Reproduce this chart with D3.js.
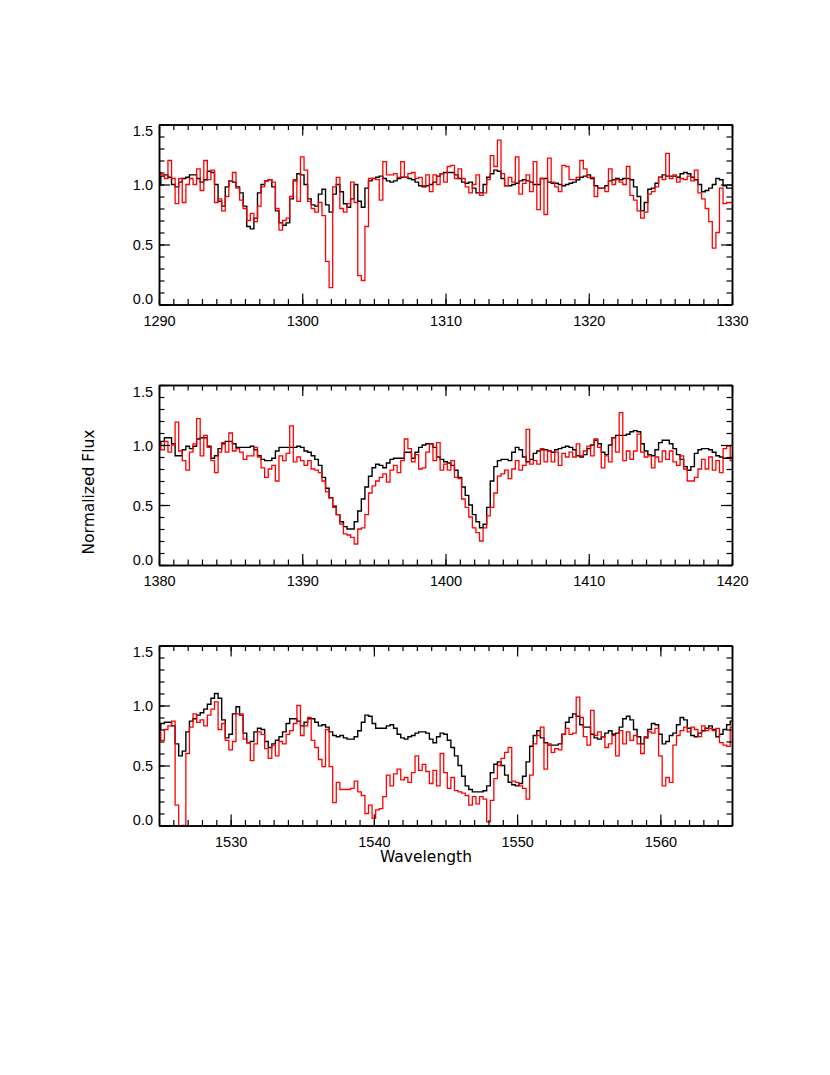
<!DOCTYPE html>
<html>
<head>
<meta charset="utf-8">
<script src="https://cdn.jsdelivr.net/npm/d3@7"></script>
<style>
  html, body { margin: 0; padding: 0; background: #fff; }
  svg { display: block; }
</style>
</head>
<body>
<svg id="chart" width="830" height="1075"></svg>
<script>
// ---------------- DATA ----------------
const binStep = 0.25;           // wavelength sampling (Angstrom)
const yTickValues = [0, 0.5, 1.0, 1.5];
const yTickLabels = ["0.0", "0.5", "1.0", "1.5"];
const xTitle = "Wavelength";
const yTitle = "Normalized Flux";

// Panel 1 : 1290 - 1330
const p1Range = [1290, 1330];
const p1XTicks = [1290, 1300, 1310, 1320, 1330];
const p1Model = [
  1.00,1.07,1.08,1.06, 1.00,0.98,1.02,1.05, 1.06,1.08,1.08,1.05, 1.02,1.04,1.11,1.10,
  1.00,0.86,0.82,0.98, 1.03,1.02,0.98,0.93, 0.82,0.65,0.63,0.72, 0.93,1.00,1.03,1.04,
  0.98,0.78,0.68,0.66, 0.68,0.88,1.03,1.09, 1.08,1.00,0.88,0.83, 0.82,0.92,0.96,0.83,
  0.77,0.92,1.00,0.94, 0.84,0.81,0.88,1.00, 0.86,0.81,0.97,1.03, 1.05,1.06,1.07,1.05,
  1.03,1.02,1.03,1.05, 1.06,1.06,1.05,1.04, 1.02,0.99,0.98,0.99, 1.00,1.02,1.07,1.09,
  1.10,1.10,1.10,1.08, 1.05,1.02,1.01,1.02, 0.97,0.93,0.93,1.00, 1.06,1.09,1.12,1.11,
  1.05,0.99,0.99,1.00, 1.01,1.03,1.04,1.03, 1.02,1.00,1.00,1.05, 1.05,1.02,1.01,1.01,
  1.00,0.99,1.00,1.01, 1.02,1.04,1.06,1.07, 1.08,1.05,0.99,0.97, 0.97,0.99,1.03,1.04,
  1.05,1.04,1.05,1.05, 1.04,0.98,0.90,0.78, 0.85,0.96,0.97,1.01, 1.06,1.08,1.07,1.07,
  1.07,1.06,1.09,1.10, 1.09,1.06,1.04,1.00, 0.94,0.95,0.97,1.00, 1.05,1.04,0.99,0.97,
  0.97
];
const p1Obs = [
  1.10,1.08,1.05,1.20, 1.05,0.84,1.05,0.85, 1.00,1.05,1.00,1.13, 0.95,1.20,1.04,1.12,
  0.85,0.88,0.78,0.90, 1.03,1.10,0.97,0.87, 0.80,0.70,0.76,0.69, 0.82,0.98,1.03,1.04,
  1.02,0.80,0.62,0.70, 0.72,0.90,1.04,0.86, 1.23,1.12,0.86,0.80, 0.77,0.85,0.74,0.36,
  0.14,0.98,1.06,0.80, 0.77,0.84,1.02,0.85, 0.24,0.20,0.65,1.05, 1.05,1.04,0.87,1.19,
  1.08,1.08,1.09,1.06, 1.19,1.06,1.09,1.10, 1.05,1.06,0.99,1.08, 0.94,1.08,1.00,1.09,
  1.02,1.15,1.16,1.05, 1.13,1.05,0.98,0.93, 1.00,1.08,0.91,0.93, 1.04,1.24,1.15,1.37,
  1.09,0.99,1.06,1.02, 1.23,0.92,1.01,1.08, 0.94,1.19,0.79,1.05, 0.75,1.22,1.02,0.98,
  0.94,1.16,1.15,1.04, 1.04,1.06,1.20,1.13, 1.06,1.06,0.90,0.97, 0.97,0.94,1.13,1.00,
  1.04,1.02,1.00,1.15, 0.91,0.87,0.78,0.72, 0.77,0.92,0.94,0.98, 1.06,1.04,1.26,1.05,
  1.08,1.02,1.05,1.04, 1.07,1.03,1.12,0.93, 0.88,0.80,0.69,0.47, 0.60,0.97,0.84,0.85,
  0.85
];

// Panel 2 : 1380 - 1420
const p2Range = [1380, 1420];
const p2XTicks = [1380, 1390, 1400, 1410, 1420];
const p2Model = [
  1.01,1.03,1.06,1.06, 1.01,0.91,0.91,0.96, 0.99,0.97,0.99,1.05, 1.06,1.06,0.99,0.89,
  0.91,0.97,1.01,1.03, 1.03,1.01,0.98,0.98, 0.98,0.98,0.99,0.96, 0.91,0.88,0.87,0.87,
  0.89,0.95,0.98,0.98, 0.98,0.98,0.98,0.99, 0.98,0.95,0.94,0.91, 0.88,0.83,0.73,0.64,
  0.56,0.49,0.42,0.36, 0.32,0.30,0.30,0.36, 0.45,0.55,0.65,0.74, 0.81,0.84,0.83,0.81,
  0.85,0.88,0.89,0.89, 0.89,0.94,0.94,0.89, 0.94,0.98,1.00,1.01, 1.01,0.98,0.90,0.88,
  0.86,0.85,0.83,0.79, 0.73,0.65,0.58,0.50, 0.42,0.36,0.31,0.34, 0.48,0.70,0.82,0.87,
  0.88,0.88,0.87,0.94, 0.98,0.96,0.90,0.86, 0.88,0.93,0.95,0.96, 0.96,0.95,0.94,0.96,
  0.97,0.98,0.99,0.98, 0.96,0.91,0.90,0.92, 0.97,1.00,1.04,1.01, 0.94,0.92,1.00,1.06,
  1.08,1.08,1.08,1.09, 1.11,1.12,1.11,1.01, 0.95,0.92,0.91,0.96, 1.02,1.04,1.04,1.01,
  0.97,0.92,0.88,0.82, 0.79,0.82,0.93,0.96, 0.97,0.97,0.96,0.94, 0.91,0.90,0.89,0.89,
  0.89
];
const p2Obs = [
  1.01,0.96,1.03,0.94, 1.00,1.19,0.95,0.87, 0.79,0.94,1.01,1.22, 0.91,1.08,0.98,0.87,
  0.77,0.94,1.02,0.94, 1.10,0.95,0.97,0.94, 0.88,0.91,0.91,0.98, 0.90,0.81,0.73,0.80,
  0.83,0.70,0.91,0.87, 0.93,1.16,0.86,0.90, 0.87,0.83,0.87,0.80, 0.79,0.77,0.70,0.61,
  0.56,0.48,0.42,0.34, 0.26,0.25,0.23,0.175, 0.30,0.31,0.42,0.60, 0.66,0.70,0.73,0.76,
  0.69,0.79,0.83,0.77, 0.87,1.05,0.97,0.86, 0.92,0.80,0.81,0.94, 1.01,0.87,1.02,0.79,
  0.84,0.79,0.87,0.73, 0.72,0.55,0.48,0.40, 0.31,0.27,0.20,0.31, 0.41,0.48,0.60,0.74,
  0.76,0.79,0.72,0.80, 0.87,0.79,0.83,1.13, 0.84,0.87,0.84,0.97, 0.86,0.95,0.86,0.94,
  0.83,0.93,0.90,0.94, 0.90,1.01,0.91,0.95, 0.99,0.91,1.05,0.98, 0.81,0.91,0.86,1.06,
  0.94,1.27,0.87,0.95, 0.88,0.95,1.09,0.94, 0.90,0.91,0.81,0.90, 0.86,0.95,0.88,0.95,
  0.86,0.83,0.91,0.80, 0.70,0.70,0.73,0.80, 0.88,0.80,0.90,0.79, 0.87,0.77,0.97,0.99,
  0.87
];

// Panel 3 : 1525 - 1565
const p3Range = [1525, 1565];
const p3XTicks = [1530, 1540, 1550, 1560];
const p3Model = [
  0.80,0.85,0.86,0.86, 0.83,0.68,0.58,0.62, 0.78,0.87,0.89,0.92, 0.94,0.97,1.01,1.06,
  1.10,1.06,0.88,0.73, 0.76,0.93,0.99,0.92, 0.77,0.69,0.70,0.78, 0.81,0.80,0.70,0.65,
  0.68,0.71,0.74,0.78, 0.85,0.89,0.89,0.87, 0.83,0.86,0.89,0.89, 0.86,0.83,0.84,0.82,
  0.78,0.75,0.74,0.75, 0.73,0.72,0.72,0.74, 0.79,0.86,0.92,0.91, 0.85,0.81,0.81,0.81,
  0.83,0.84,0.81,0.76, 0.73,0.72,0.74,0.75, 0.77,0.78,0.78,0.77, 0.72,0.69,0.74,0.77,
  0.76,0.71,0.65,0.58, 0.50,0.41,0.33,0.30, 0.28,0.28,0.28,0.29, 0.33,0.44,0.51,0.53,
  0.50,0.42,0.36,0.34, 0.33,0.35,0.41,0.53, 0.66,0.75,0.79,0.73, 0.69,0.67,0.67,0.67,
  0.68,0.76,0.86,0.90, 0.93,0.91,0.84,0.82, 0.82,0.76,0.73,0.72, 0.74,0.77,0.79,0.76,
  0.77,0.82,0.89,0.91, 0.88,0.80,0.74,0.68, 0.73,0.80,0.85,0.84, 0.76,0.68,0.70,0.75,
  0.77,0.84,0.90,0.88, 0.81,0.75,0.74,0.77, 0.79,0.81,0.83,0.80, 0.74,0.76,0.80,0.84,
  0.87
];
const p3Obs = [
  0.78,0.71,0.80,0.83, 0.87,0.17,-0.05,0.00, 0.60,0.82,0.93,0.86, 0.88,0.83,0.92,0.97,
  1.03,0.80,0.85,0.71, 0.63,0.70,0.93,0.93, 0.72,0.69,0.54,0.68, 0.78,0.76,0.64,0.56,
  0.67,0.58,0.70,0.68, 0.76,0.79,0.85,1.00, 0.75,0.83,0.90,0.71, 0.65,0.55,0.49,0.80,
  0.49,0.19,0.36,0.30, 0.30,0.30,0.31,0.37, 0.28,0.25,0.10,0.17, 0.06,0.13,0.14,0.24,
  0.42,0.33,0.43,0.47, 0.38,0.40,0.36,0.44, 0.58,0.46,0.51,0.45, 0.35,0.46,0.33,0.60,
  0.44,0.31,0.40,0.29, 0.28,0.27,0.25,0.17, 0.24,0.18,0.24,0.22, 0.03,0.21,0.39,0.50,
  0.56,0.61,0.65,0.37, 0.36,0.33,0.31,0.22, 0.42,0.68,0.75,0.82, 0.47,0.68,0.61,0.64,
  0.63,0.76,0.81,0.76, 0.77,1.07,0.90,0.74, 0.67,0.96,0.75,0.78, 0.74,0.65,0.68,0.75,
  0.58,0.79,0.68,0.78, 0.71,0.75,0.68,0.60, 0.74,0.78,0.77,0.81, 0.58,0.33,0.40,0.36,
  0.67,0.75,0.79,0.82, 0.78,0.82,0.80,0.74, 0.83,0.79,0.81,0.79, 0.81,0.69,0.67,0.66,
  0.82
];

// ---------------- LAYOUT ----------------
const W = 830, H = 1075;
const plotLeft = 159, plotRight = 732;
const panelH = 180;
const panelTops = [124.5, 385, 645.5];
const majorLen = 11, minorLen = 5.5;
const tickFont = "'Liberation Sans', Arial, Helvetica, sans-serif";
const titleFont = "'DejaVu Sans', Verdana, sans-serif";

const panels = [
  { range: p1Range, ticks: p1XTicks, model: p1Model, obs: p1Obs },
  { range: p2Range, ticks: p2XTicks, model: p2Model, obs: p2Obs },
  { range: p3Range, ticks: p3XTicks, model: p3Model, obs: p3Obs }
];

const svg = d3.select("#chart");
svg.append("rect").attr("width", W).attr("height", H).attr("fill", "#fff");

panels.forEach((p, idx) => {
  const top = panelTops[idx];
  const x = d3.scaleLinear().domain(p.range).range([plotLeft, plotRight]);
  const y = d3.scaleLinear().domain([0, 1.5]).range([top + panelH, top]);
  const g = svg.append("g");

  const clipId = "clip" + idx;
  svg.append("clipPath").attr("id", clipId)
    .append("rect").attr("x", plotLeft).attr("y", top)
    .attr("width", plotRight - plotLeft).attr("height", panelH);

  const minorX = d3.range(p.range[0], p.range[1] + 0.001, 1);
  const minorY = d3.range(0, 16).map(i => i / 10);

  const line = d3.line()
    .x(d => x(d[0]))
    .y(d => y(d[1]))
    .curve(d3.curveStep);

  const toPts = arr => arr.map((v, i) => [p.range[0] + i * binStep, v]);

  const dataG = g.append("g").attr("clip-path", `url(#${clipId})`);
  dataG.append("path").datum(toPts(p.model))
    .attr("d", line).attr("fill", "none")
    .attr("stroke", "#000").attr("stroke-width", 1.4)
    .attr("stroke-linejoin", "miter");
  dataG.append("path").datum(toPts(p.obs))
    .attr("d", line).attr("fill", "none")
    .attr("stroke", "#ff0000").attr("stroke-width", 1.3)
    .attr("stroke-linejoin", "miter");

  const styleAxis = sel => {
    sel.selectAll("path.domain").attr("stroke", "#000").attr("stroke-width", 1.5);
    sel.selectAll(".tick line").attr("stroke", "#000").attr("stroke-width", 1.2);
  };

  const bottom = g.append("g").attr("transform", `translate(0,${top + panelH})`)
    .call(d3.axisBottom(x).tickValues(p.ticks).tickSize(-majorLen)
      .tickSizeOuter(0).tickPadding(11).tickFormat(d3.format("d")));
  styleAxis(bottom);
  bottom.selectAll("text").attr("font-family", tickFont).attr("font-size", 14.5)
    .attr("fill", "#000");
  const bottomMinor = g.append("g").attr("transform", `translate(0,${top + panelH})`)
    .call(d3.axisBottom(x).tickValues(minorX).tickSize(-minorLen)
      .tickSizeOuter(0).tickFormat(""));
  styleAxis(bottomMinor);

  const topAx = g.append("g").attr("transform", `translate(0,${top})`)
    .call(d3.axisTop(x).tickValues(p.ticks).tickSize(-majorLen)
      .tickSizeOuter(0).tickFormat(""));
  styleAxis(topAx);
  const topMinor = g.append("g").attr("transform", `translate(0,${top})`)
    .call(d3.axisTop(x).tickValues(minorX).tickSize(-minorLen)
      .tickSizeOuter(0).tickFormat(""));
  styleAxis(topMinor);

  const left = g.append("g").attr("transform", `translate(${plotLeft},0)`)
    .call(d3.axisLeft(y).tickValues(yTickValues).tickSize(-majorLen)
      .tickSizeOuter(0).tickPadding(6)
      .tickFormat((d, i) => yTickLabels[i]));
  styleAxis(left);
  left.selectAll("text").attr("font-family", tickFont).attr("font-size", 14.5)
    .attr("fill", "#000")
    .attr("dy", d => d === 1.5 ? "0.78em" : (d === 0 ? "-0.05em" : "0.36em"));
  const leftMinor = g.append("g").attr("transform", `translate(${plotLeft},0)`)
    .call(d3.axisLeft(y).tickValues(minorY).tickSize(-minorLen)
      .tickSizeOuter(0).tickFormat(""));
  styleAxis(leftMinor);

  const right = g.append("g").attr("transform", `translate(${plotRight},0)`)
    .call(d3.axisRight(y).tickValues(yTickValues).tickSize(-majorLen)
      .tickSizeOuter(0).tickFormat(""));
  styleAxis(right);
  const rightMinor = g.append("g").attr("transform", `translate(${plotRight},0)`)
    .call(d3.axisRight(y).tickValues(minorY).tickSize(-minorLen)
      .tickSizeOuter(0).tickFormat(""));
  styleAxis(rightMinor);
});

svg.append("text")
  .attr("x", 426).attr("y", 862)
  .attr("text-anchor", "middle")
  .attr("font-family", titleFont).attr("font-size", 15.5)
  .attr("fill", "#000")
  .text(xTitle);

svg.append("text")
  .attr("transform", "translate(94,492) rotate(-90)")
  .attr("text-anchor", "middle")
  .attr("font-family", titleFont).attr("font-size", 15.5)
  .attr("fill", "#000")
  .text(yTitle);
</script>
</body>
</html>
